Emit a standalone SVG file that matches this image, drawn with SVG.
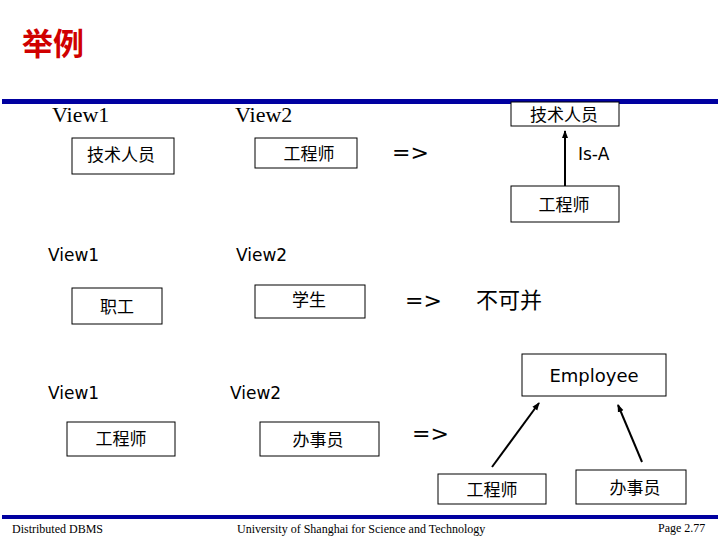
<svg xmlns="http://www.w3.org/2000/svg" width="720" height="540" viewBox="0 0 720 540">
<style>
.b{fill:#fff;stroke:#000;stroke-width:1}
.c{font-family:"Noto Sans CJK SC",sans-serif;font-size:17px;fill:#000;text-anchor:middle}
.s{font-family:"DejaVu Sans",sans-serif;font-size:17px;fill:#000}
.v{font-family:"Liberation Serif",serif;font-size:22px;fill:#000}
.f{font-family:"Liberation Serif",serif;font-size:12px;fill:#000}
.e{font-family:"DejaVu Sans",sans-serif;font-size:22px;fill:#000}
</style>
<defs><marker id="a" markerWidth="8" markerHeight="8" refX="7" refY="4" orient="auto" markerUnits="userSpaceOnUse"><path d="M0,1 L8,4 L0,7 z" fill="#000"/></marker></defs>
<rect width="720" height="540" fill="#fff"/>
<text x="22" y="55" font-family="Noto Sans CJK SC,sans-serif" font-size="31" font-weight="bold" fill="#d00000">举例</text>
<rect x="2" y="99" width="716" height="5" fill="#0000a0"/>
<rect x="2" y="515" width="716" height="4" fill="#0000a0"/>
<text class="f" x="12" y="533">Distributed DBMS</text>
<text class="f" x="237" y="533">University of  Shanghai for Science and Technology</text>
<text class="f" x="658" y="532">Page 2.77</text>
<text class="v" x="52" y="122">View1</text>
<text class="v" x="235" y="122">View2</text>
<text class="e" x="392" y="160">=&gt;</text>
<text class="s" x="48" y="261">View1</text>
<text class="s" x="236" y="261">View2</text>
<text class="e" x="405" y="308">=&gt;</text>
<text x="476" y="308" font-family="Noto Sans CJK SC,sans-serif" font-size="22" fill="#000">不可并</text>
<text class="s" x="48" y="399">View1</text>
<text class="s" x="230" y="399">View2</text>
<text class="e" x="412" y="441">=&gt;</text>
<text class="s" x="578" y="160">Is-A</text>
<g id="connectors" stroke="#000" stroke-width="2" marker-end="url(#a)">
<line x1="565" y1="186" x2="565" y2="131"/>
<line x1="492" y1="467" x2="539" y2="403"/>
<line x1="642" y1="462" x2="618" y2="405"/>
</g>
<g id="n1"><rect class="b" x="72" y="138" width="102" height="36"/><text class="c" x="121" y="161">技术人员</text></g>
<g id="n2"><rect class="b" x="255" y="138" width="102" height="30"/><text class="c" x="309" y="160">工程师</text></g>
<g id="n3"><rect class="b" x="511" y="102" width="108" height="24"/><text class="c" x="564" y="121">技术人员</text></g>
<g id="n4"><rect class="b" x="511" y="186" width="108" height="36"/><text class="c" x="564" y="211">工程师</text></g>
<g id="n5"><rect class="b" x="72" y="288" width="90" height="36"/><text class="c" x="117" y="313">职工</text></g>
<g id="n6"><rect class="b" x="255" y="285" width="110" height="33"/><text class="c" x="309" y="306">学生</text></g>
<g id="n7"><rect class="b" x="522" y="354" width="144" height="42"/><text x="594" y="382" font-family="DejaVu Sans,sans-serif" font-size="18" text-anchor="middle">Employee</text></g>
<g id="n8"><rect class="b" x="67" y="422" width="108" height="34"/><text class="c" x="121" y="445">工程师</text></g>
<g id="n9"><rect class="b" x="260" y="422" width="119" height="34"/><text class="c" x="318" y="446">办事员</text></g>
<g id="n10"><rect class="b" x="438" y="474" width="108" height="30"/><text class="c" x="492" y="496">工程师</text></g>
<g id="n11"><rect class="b" x="576" y="470" width="110" height="34"/><text class="c" x="635" y="494">办事员</text></g>
</svg>
